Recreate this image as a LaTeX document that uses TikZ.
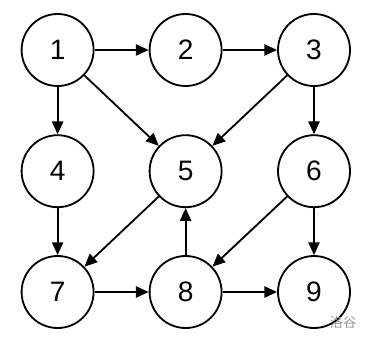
\documentclass[tikz,border=0pt]{standalone}
\usepackage{fontspec}
\setmainfont{Liberation Sans}
\newfontfamily\cjk{Noto Sans CJK SC}
\usetikzlibrary{arrows.meta}
\definecolor{Mark}{HTML}{9A9A9A}
\tikzset{vertex/.style={draw,circle,line width=1.3pt,minimum size=1.8cm,inner sep=0pt,font=\fontsize{20}{22}\selectfont},
  edge/.style={line width=1.3pt,-{Triangle[length=0.32cm,width=0.28cm]}}}
\begin{document}
\begin{tikzpicture}
        \useasboundingbox (0,0) rectangle (9.25,-8.55);
        \foreach \name/\x/\y in {1/1.44/-1.25,2/4.64/-1.25,3/7.85/-1.25,4/1.44/-4.28,5/4.64/-4.28,6/7.85/-4.28,7/1.44/-7.3,8/4.64/-7.3,9/7.85/-7.3}{
          \node[vertex] (n\name) at (\x,\y) {\name};}
        \foreach \a/\b in {1/2,2/3,1/4,1/5,3/5,3/6,4/7,5/7,6/8,6/9,7/8,8/5,8/9}{
          \draw[edge] (n\a)--(n\b);}
        \node[text=Mark,font=\cjk\fontsize{9.5}{10}\selectfont] (mark) at (8.58,-8.05) {洛谷};
      \end{tikzpicture}
\end{document}
